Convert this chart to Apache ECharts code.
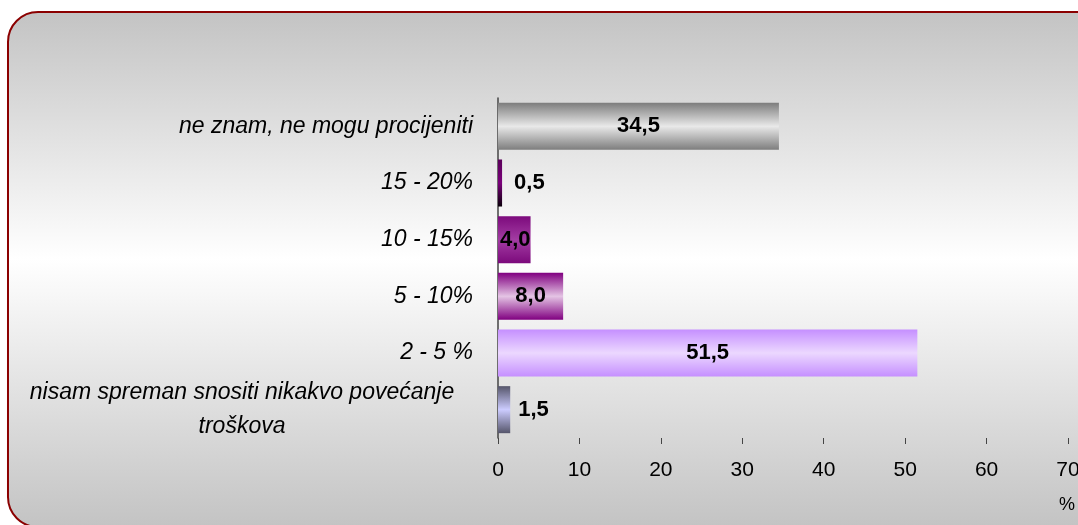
<!DOCTYPE html>
<html style="height: 100%">
	<head>
		<meta charset="utf-8">
		<script type="text/javascript" src="https://cdn.jsdelivr.net/npm/echarts@6/dist/echarts.min.js"></script>
	</head>
	<body style="height: 100%; margin: 0; background: #ffffff">
		<div id="container" style="width: 1078px; height: 525px"></div>
		<script type="text/javascript">
			// top to bottom, as in the picture
			var categories = ['ne znam, ne mogu procijeniti', '15 - 20%', '10 - 15%', '5 - 10%', '2 - 5 %', 'nisam spreman snositi nikakvo povećanje\ntroškova'];
			var values = [34.5, 0.5, 4.0, 8.0, 51.5, 1.5];
			var xTicks = [0, 10, 20, 30, 40, 50, 60, 70];
			var axisUnit = '%';

			// [edge, middle, edge] colours of each bar gradient
			var barColors = [
				['#7d7d7d', '#e9e9e9', '#7d7d7d'],
				['#5a005a', '#7a007a', '#0a000a'],
				['#7c0a7c', '#a33ca3', '#7c0a7c'],
				['#800080', '#e4c4e4', '#800080'],
				['#c58fff', '#ecd8ff', '#c58fff'],
				['#55556a', '#ccccff', '#55556a']
			];
			var labelPos = ['inside', 'right', 'insideLeft', 'inside', 'inside', 'right'];
			var labelDist = [5, 12, 2, 5, 5, 8];

			function grad(c) {
				return new echarts.graphic.LinearGradient(0, 0, 0, 1, [
					{offset: 0, color: c[0]},
					{offset: 0.5, color: c[1]},
					{offset: 1, color: c[2]}
				]);
			}

			var dom = document.getElementById("container");
			var myChart = echarts.init(dom);
			var option = {
				animation: false,
				graphic: [{
					type: 'rect',
					z: -10,
					silent: true,
					shape: {x: 8, y: 12, width: 1110, height: 515, r: 30},
					style: {
						fill: new echarts.graphic.LinearGradient(0, 0, 0, 1, [
							{offset: 0, color: '#c3c3c3'},
							{offset: 0.48, color: '#ffffff'},
							{offset: 1, color: '#c3c3c3'}
						]),
						stroke: '#8b0000',
						lineWidth: 2
					}
				}],
				grid: {
					left: 498,
					right: 10,
					top: 98,
					bottom: 87,
					outerBoundsMode: 'none'
				},
				xAxis: {
					type: 'value',
					min: xTicks[0],
					max: xTicks[xTicks.length - 1],
					interval: 10,
					name: axisUnit,
					nameLocation: 'end',
					nameGap: -1,
					nameTextStyle: {
						fontFamily: 'Liberation Sans',
						fontSize: 18,
						color: '#000',
						align: 'center',
						verticalAlign: 'top',
						padding: [58, 0, 0, 0]
					},
					splitLine: {show: false},
					axisLine: {lineStyle: {color: '#444', width: 1.5}},
					axisTick: {show: true, length: 6, lineStyle: {color: '#444'}},
					axisLabel: {
						margin: 22,
						color: '#000',
						fontFamily: 'Liberation Sans',
						fontSize: 21
					}
				},
				yAxis: {
					type: 'category',
					inverse: true,
					data: categories,
					axisLine: {lineStyle: {color: '#444', width: 1.5}},
					axisTick: {show: false},
					axisLabel: {
						margin: 25,
						color: '#000',
						fontFamily: 'Liberation Sans',
						fontStyle: 'italic',
						fontSize: 23,
						formatter: function(v) {
							return v.indexOf('\n') >= 0 ? '{w|' + v + '}' : v;
						},
						rich: {
							w: {
								width: 462,
								align: 'center',
								lineHeight: 34,
								color: '#000',
								fontFamily: 'Liberation Sans',
								fontStyle: 'italic',
								fontSize: 23
							}
						}
					}
				},
				series: [{
					type: 'bar',
					barCategoryGap: '17%',
					data: values.map(function(v, i) {
						return {
							value: v,
							itemStyle: {color: grad(barColors[i])},
							label: {position: labelPos[i], distance: labelDist[i]}
						};
					}),
					label: {
						show: true,
						color: '#000',
						fontFamily: 'Liberation Sans',
						fontWeight: 'bold',
						fontSize: 22,
						formatter: function(p) {
							return p.value.toFixed(1).replace('.', ',');
						}
					}
				}]
			};
			myChart.setOption(option);
		</script>
	</body>
</html>
